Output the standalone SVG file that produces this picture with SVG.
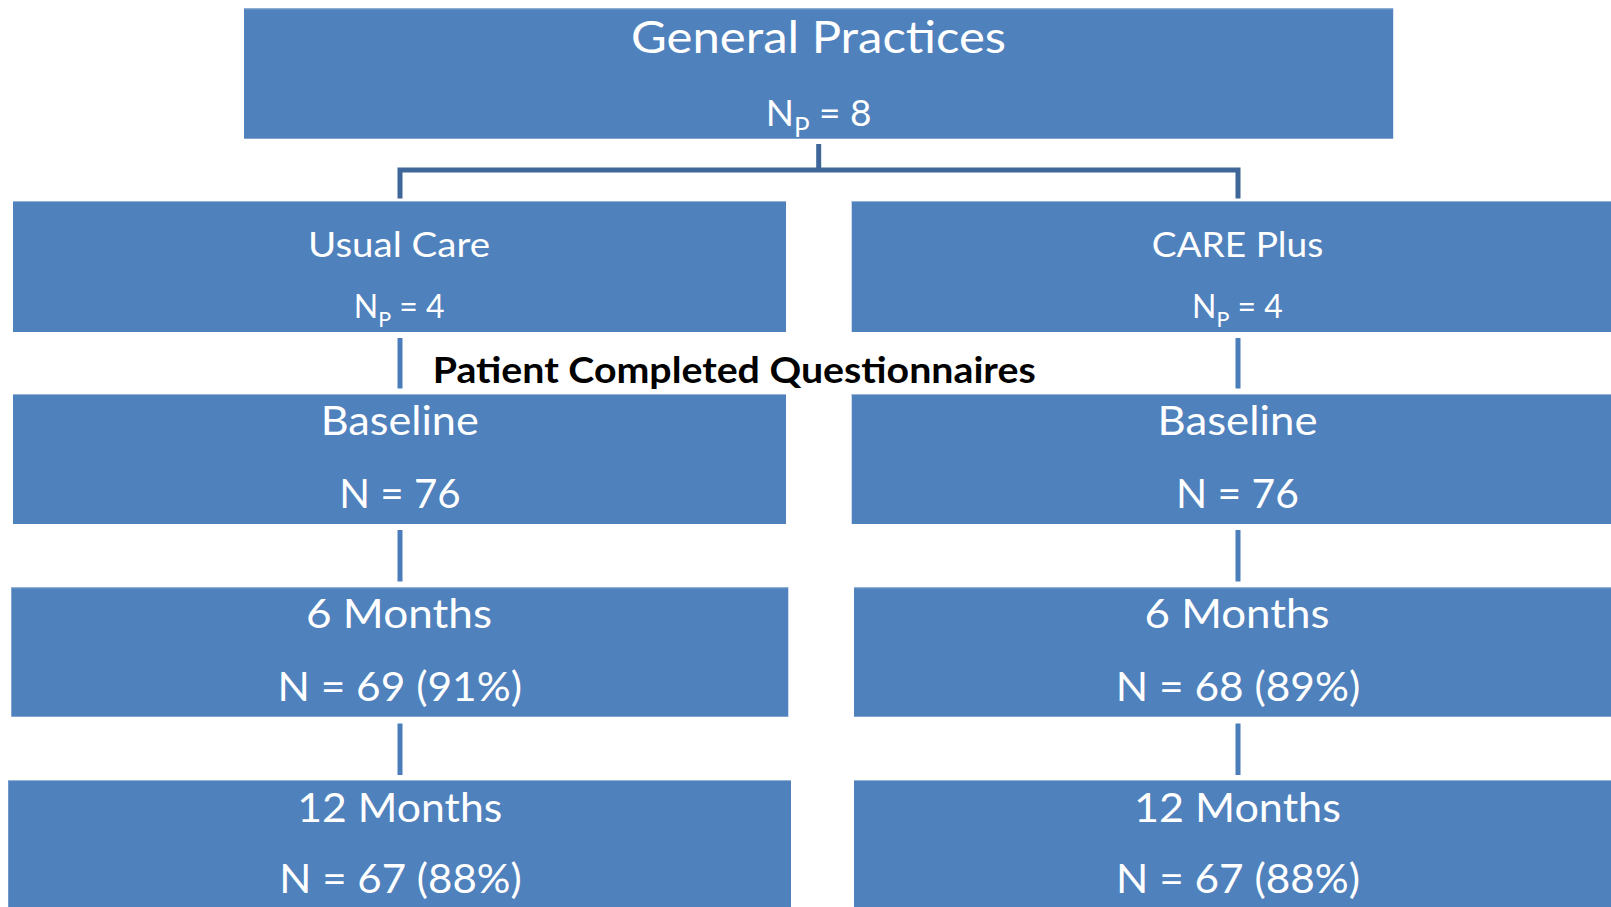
<svg xmlns="http://www.w3.org/2000/svg" width="1611" height="907" viewBox="0 0 1611 907">
  <style>
    .box { fill: #4F81BD; }
    .edge { stroke: #95B3D7; stroke-width: 1; }
    .t { font-family: Lato, "Open Sans", "Liberation Sans", sans-serif; fill: #FFFFFF; text-anchor: middle; }
    .lbl { font-family: Lato, "Open Sans", "Liberation Sans", sans-serif; fill: #000000; font-weight: bold; }
    .top { stroke: #3E6698; stroke-width: 5; fill: none; stroke-linecap: butt; stroke-linejoin: miter; }
    .conn { stroke: #4A7DBA; stroke-width: 5; fill: none; }
  </style>

  <g id="connectors">
    <path class="top" d="M818.7,144 V170 M400,198.5 V170 H1238 V198.5"/>
    <line class="conn" x1="400" y1="338" x2="400" y2="388.5"/>
    <line class="conn" x1="1238" y1="338" x2="1238" y2="388.5"/>
    <line class="conn" x1="400" y1="530" x2="400" y2="581.5"/>
    <line class="conn" x1="1238" y1="530" x2="1238" y2="581.5"/>
    <line class="conn" x1="400" y1="723.5" x2="400" y2="775"/>
    <line class="conn" x1="1238" y1="723.5" x2="1238" y2="775"/>
  </g>

  <g id="general-practices">
    <rect class="box" x="244" y="8.3" width="1149.2" height="130.4"/>
    <line class="edge" x1="244" y1="8.8" x2="1393.2" y2="8.8"/>
    <text class="t" x="818.6" y="53.3" font-size="44" textLength="375" lengthAdjust="spacingAndGlyphs">General Practices</text>
    <text class="t" x="818.5" y="126" font-size="37">N<tspan font-size="26" dy="10.7">P</tspan><tspan dy="-10.7"> = 8</tspan></text>
  </g>

  <g id="usual-care">
    <rect class="box" x="13" y="201" width="773" height="131"/>
    <line class="edge" x1="13" y1="201.5" x2="786" y2="201.5"/>
    <text class="t" x="399" y="256.7" font-size="34" textLength="182" lengthAdjust="spacingAndGlyphs">Usual Care</text>
    <text class="t" x="399.2" y="318.3" font-size="32">N<tspan font-size="21.5" dy="8.4">P</tspan><tspan dy="-8.4"> = 4</tspan></text>
  </g>

  <g id="care-plus">
    <rect class="box" x="851.7" y="201" width="760" height="131"/>
    <line class="edge" x1="851.7" y1="201.5" x2="1611" y2="201.5"/>
    <text class="t" x="1237.5" y="256.7" font-size="34" textLength="171.6" lengthAdjust="spacingAndGlyphs">CARE Plus</text>
    <text class="t" x="1237.5" y="318.3" font-size="32">N<tspan font-size="21.5" dy="8.4">P</tspan><tspan dy="-8.4"> = 4</tspan></text>
  </g>

  <g id="section-label">
    <text class="lbl" x="432.7" y="383.3" font-size="36" textLength="603" lengthAdjust="spacingAndGlyphs">Patient Completed Questionnaires</text>
  </g>

  <g id="uc-baseline">
    <rect class="box" x="13" y="394" width="773" height="130"/>
    <line class="edge" x1="13" y1="394.5" x2="786" y2="394.5"/>
    <text class="t" x="399.7" y="435" font-size="41" textLength="158" lengthAdjust="spacingAndGlyphs">Baseline</text>
    <text class="t" x="400" y="508.3" font-size="41" textLength="121.4" lengthAdjust="spacingAndGlyphs">N = 76</text>
  </g>

  <g id="cp-baseline">
    <rect class="box" x="851.7" y="394" width="760" height="130"/>
    <line class="edge" x1="851.7" y1="394.5" x2="1611" y2="394.5"/>
    <text class="t" x="1237.5" y="435" font-size="41" textLength="160" lengthAdjust="spacingAndGlyphs">Baseline</text>
    <text class="t" x="1237.4" y="508.3" font-size="41" textLength="123" lengthAdjust="spacingAndGlyphs">N = 76</text>
  </g>

  <g id="uc-6months">
    <rect class="box" x="11.3" y="587.3" width="777" height="129.4"/>
    <line class="edge" x1="11.3" y1="587.8" x2="788.3" y2="587.8"/>
    <text class="t" x="399" y="628.3" font-size="41" textLength="186" lengthAdjust="spacingAndGlyphs">6 Months</text>
    <text class="t" x="399.7" y="700.5" font-size="41" textLength="244.6" lengthAdjust="spacingAndGlyphs">N = 69 (91%)</text>
  </g>

  <g id="cp-6months">
    <rect class="box" x="854" y="587.3" width="757" height="129.4"/>
    <line class="edge" x1="854" y1="587.8" x2="1611" y2="587.8"/>
    <text class="t" x="1237" y="628.3" font-size="41" textLength="185" lengthAdjust="spacingAndGlyphs">6 Months</text>
    <text class="t" x="1238" y="700.5" font-size="41" textLength="244.5" lengthAdjust="spacingAndGlyphs">N = 68 (89%)</text>
  </g>

  <g id="uc-12months">
    <rect class="box" x="8.2" y="780" width="782.8" height="130"/>
    <line class="edge" x1="8.2" y1="780.5" x2="791" y2="780.5"/>
    <text class="t" x="399.8" y="821.7" font-size="41" textLength="205" lengthAdjust="spacingAndGlyphs">12 Months</text>
    <text class="t" x="400.5" y="893.3" font-size="41" textLength="242.4" lengthAdjust="spacingAndGlyphs">N = 67 (88%)</text>
  </g>

  <g id="cp-12months">
    <rect class="box" x="854" y="780" width="757" height="130"/>
    <line class="edge" x1="854" y1="780.5" x2="1611" y2="780.5"/>
    <text class="t" x="1237.4" y="821.7" font-size="41" textLength="207" lengthAdjust="spacingAndGlyphs">12 Months</text>
    <text class="t" x="1238" y="893.3" font-size="41" textLength="244" lengthAdjust="spacingAndGlyphs">N = 67 (88%)</text>
  </g>
</svg>
